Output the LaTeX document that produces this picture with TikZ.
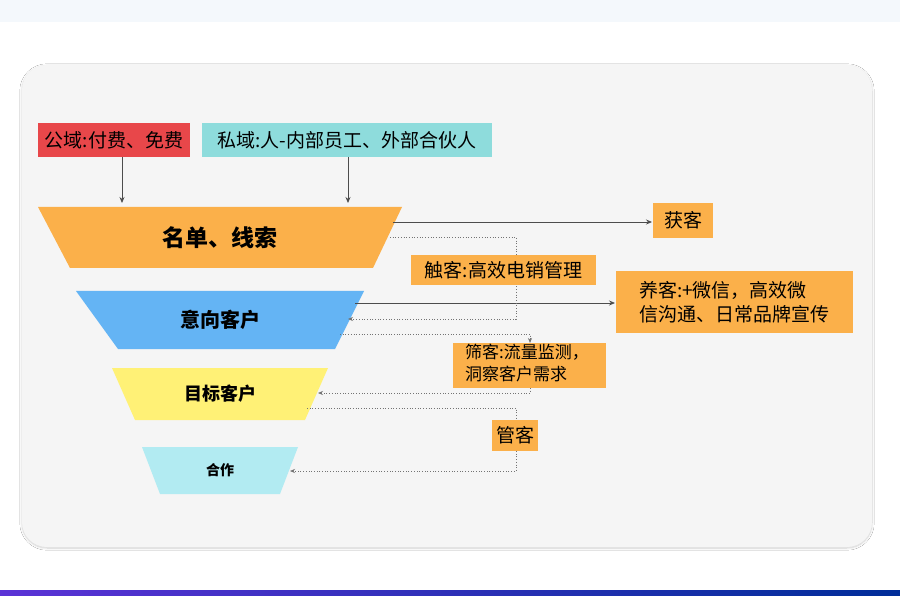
\documentclass[tikz,border=0pt]{standalone}
\usepackage{fontspec}
\setmainfont{Noto Sans CJK SC}
\usetikzlibrary{arrows.meta,shadows.blur}
\definecolor{org}{HTML}{FBB04A}
\definecolor{redb}{HTML}{E8474A}
\definecolor{teal}{HTML}{8EDCDC}
\definecolor{blu}{HTML}{64B4F4}
\definecolor{yel}{HTML}{FFF176}
\definecolor{cya}{HTML}{B2EBF2}
\definecolor{topband}{HTML}{F4F8FC}
\definecolor{panel}{HTML}{F5F5F5}
\tikzset{
 lbl/.style={draw=none,inner sep=0,anchor=north west,font=\fontsize{19}{24}\selectfont},
 arr/.style={draw=black!70,line width=0.8pt,-{Stealth[length=6pt,width=5pt]}},
 dot/.style={draw=black!55,line width=0.7pt,dotted,-{Stealth[length=5pt,width=4pt]}},
 dotn/.style={draw=black!55,line width=0.7pt,dotted},
 tr/.style={draw=none}
}
\begin{document}
\begin{tikzpicture}[x=1pt,y=-1pt]
\useasboundingbox (0,0) rectangle (900,596);
\fill[white] (0,0) rectangle (900,596);
\fill[topband] (0,0) rectangle (900,22);
\shade[left color=blue!60!violet!80, right color=blue!70!cyan!60!black] (0,590) rectangle (900,596);
\fill[black!8,rounded corners=25pt,blur shadow={shadow blur steps=8,shadow xshift=0pt,shadow yshift=-1pt,shadow opacity=20}] (22,65) rectangle (872,547);
\fill[panel,rounded corners=25pt] (22,65) rectangle (872,547);
% top boxes
\fill[redb] (38,123) rectangle (190,157);
\node[lbl,anchor=center] (pub) at (114,140) {公域:付费、免费};
\fill[teal] (202,123) rectangle (492,157);
\node[lbl,anchor=center] (pri) at (347,140) {私域:人-内部员工、外部合伙人};
% funnel
\fill[org] (38,207) -- (402,207) -- (373,268) -- (70,268) -- cycle;
\node[font=\fontsize{23}{28}\selectfont\bfseries] (f1) at (220,238) {名单、线索};
\fill[blu] (76,291) -- (364,291) -- (335,349) -- (118,349) -- cycle;
\node[font=\fontsize{20}{24}\selectfont\bfseries] (f2) at (220,320) {意向客户};
\fill[yel] (112,368) -- (328,368) -- (305,420) -- (135,420) -- cycle;
\node[font=\fontsize{18}{22}\selectfont\bfseries] (f3) at (220,394) {目标客户};
\fill[cya] (142,447) -- (298,447) -- (280,494) -- (160,494) -- cycle;
\node[font=\fontsize{14}{18}\selectfont\bfseries] (f4) at (220,470) {合作};
\coordinate (p1) at (122,157); \coordinate (p1e) at (122,203);
\coordinate (p2) at (348,157); \coordinate (p2e) at (348,203);
\draw[arr] (p1) -- (p1e);
\draw[arr] (p2) -- (p2e);
% right boxes
\fill[org] (653,203) rectangle (713,238);
\node[lbl,anchor=center] (hk) at (683,220.5) {获客};
\coordinate (a1) at (393,222); \coordinate (a1e) at (652,222);
\draw[arr] (a1) -- (a1e);
\fill[org] (616,271) rectangle (853,333);
\node[lbl,anchor=center,align=left] (yk) at (734,302) {养客:+微信，高效微\\信沟通、日常品牌宣传};
\coordinate (a2) at (355,303); \coordinate (a2e) at (615,303);
\draw[arr] (a2) -- (a2e);
% dotted loops
\coordinate (d1) at (390,237); \coordinate (d1e) at (348,319);
\draw[dot] (d1) -- (516,237) -- (516,319) -- (d1e);
\fill[org] (411,255) rectangle (596,285);
\node[lbl,anchor=center] (ck) at (503.5,270) {触客:高效电销管理};
\coordinate (d2) at (340,334); \coordinate (d2e) at (530,343);
\draw[dot] (d2) -- (530,334) -- (d2e);
\fill[org] (453,343) rectangle (606,388);
\node[lbl,anchor=north west,align=left,font=\fontsize{17}{22}\selectfont] (sk) at (465,344) {筛客:流量监测，\\洞察客户需求};
\coordinate (d3) at (530,388); \coordinate (d3e) at (318,393);
\draw[dot] (d3) -- (530,393) -- (d3e);
\coordinate (d4) at (307,408); \coordinate (d4e) at (290,471);
\draw[dotn] (d4) -- (516,408) -- (516,420);
\fill[org] (492,420) rectangle (538,451);
\node[lbl,anchor=center] (gk) at (515,435.5) {管客};
\draw[dot] (516,451) -- (516,471) -- (d4e);
\end{tikzpicture}
\end{document}
